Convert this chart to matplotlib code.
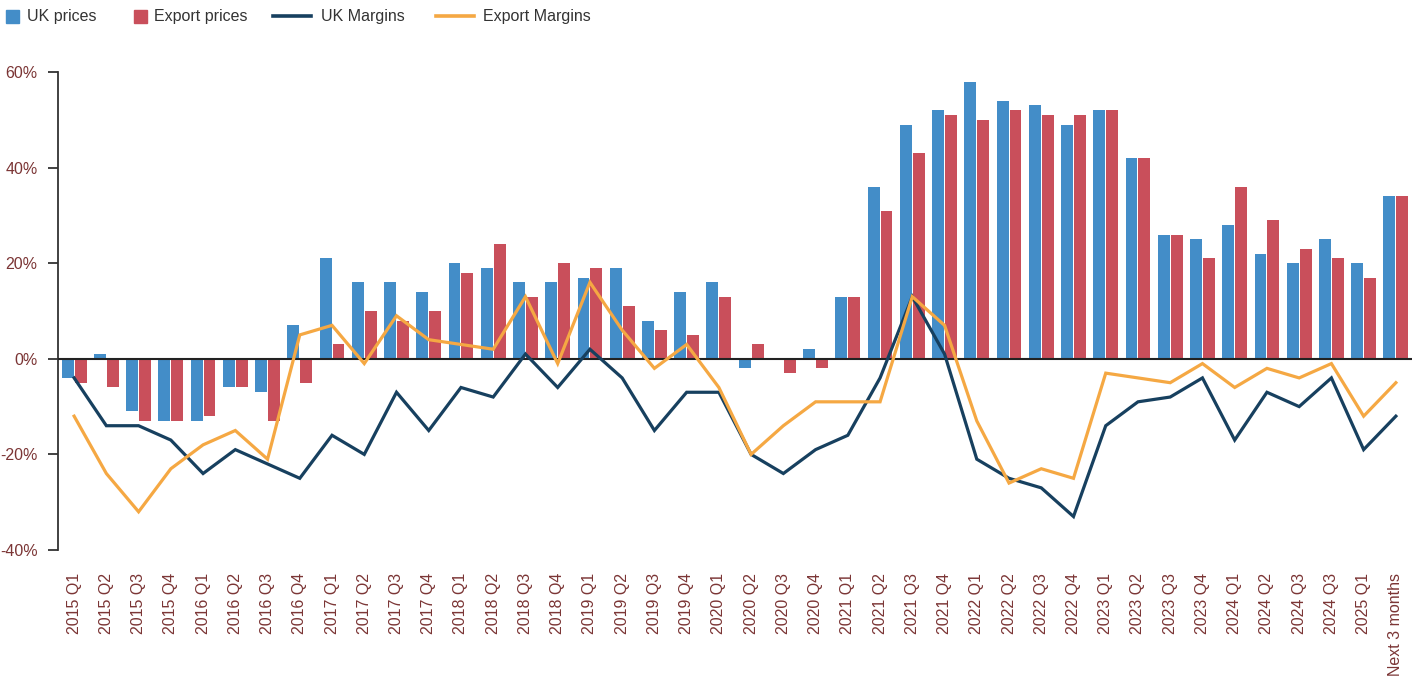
import numpy as np
import matplotlib
matplotlib.use("Agg")
import matplotlib.pyplot as plt
from matplotlib.patches import Rectangle
from matplotlib.lines import Line2D
from matplotlib.ticker import FuncFormatter

plt.rcParams['font.family'] = ['Liberation Sans', 'DejaVu Sans']

categories = [
    "2015 Q1", "2015 Q2", "2015 Q3", "2015 Q4",
    "2016 Q1", "2016 Q2", "2016 Q3", "2016 Q4",
    "2017 Q1", "2017 Q2", "2017 Q3", "2017 Q4",
    "2018 Q1", "2018 Q2", "2018 Q3", "2018 Q4",
    "2019 Q1", "2019 Q2", "2019 Q3", "2019 Q4",
    "2020 Q1", "2020 Q2", "2020 Q3", "2020 Q4",
    "2021 Q1", "2021 Q2", "2021 Q3", "2021 Q4",
    "2022 Q1", "2022 Q2", "2022 Q3", "2022 Q4",
    "2023 Q1", "2023 Q2", "2023 Q3", "2023 Q4",
    "2024 Q1", "2024 Q2", "2024 Q3", "2024 Q3",
    "2025 Q1", "Next 3 months",
]

uk_prices = [-4, 1, -11, -13, -13, -6, -7, 7, 21, 16, 16, 14,
             20, 19, 16, 16, 17, 19, 8, 14, 16, -2, 0, 2,
             13, 36, 49, 52, 58, 54, 53, 49, 52, 42, 26, 25,
             28, 22, 20, 25, 20, 34]
export_prices = [-5, -6, -13, -13, -12, -6, -13, -5, 3, 10, 8, 10,
                 18, 24, 13, 20, 19, 11, 6, 5, 13, 3, -3, -2,
                 13, 31, 43, 51, 50, 52, 51, 51, 52, 42, 26, 21,
                 36, 29, 23, 21, 17, 34]
uk_margins = [-4, -14, -14, -17, -24, -19, -22, -25, -16, -20, -7, -15,
              -6, -8, 1, -6, 2, -4, -15, -7, -7, -20, -24, -19,
              -16, -4, 13, 1, -21, -25, -27, -33, -14, -9, -8, -4,
              -17, -7, -10, -4, -19, -12]
export_margins = [-12, -24, -32, -23, -18, -15, -21, 5, 7, -1, 9, 4,
                  3, 2, 13, -1, 16, 6, -2, 3, -6, -20, -14, -9,
                  -9, -9, 13, 7, -13, -26, -23, -25, -3, -4, -5, -1,
                  -6, -2, -4, -1, -12, -5]

C_UK = '#438DC8'
C_EX = '#C94F5B'
C_UKM = '#17405F'
C_EXM = '#F5A843'
C_TICK = '#7B3535'

W, H = 1419, 678
fig = plt.figure(figsize=(W / 100, H / 100), dpi=100)
ax = fig.add_axes([58 / W, 1 - 550 / H, (1412 - 58) / W, (550 - 72) / H])

x = np.arange(len(categories))
bw = 0.37
ax.bar(x - 0.2, uk_prices, width=bw, color=C_UK, zorder=2)
ax.bar(x + 0.2, export_prices, width=bw, color=C_EX, zorder=2)
ax.axhline(0, color='#222222', lw=1.5, zorder=3)
ax.plot(x, uk_margins, color=C_UKM, lw=2.3, zorder=4, solid_joinstyle='miter')
ax.plot(x, export_margins, color=C_EXM, lw=2.3, zorder=5, solid_joinstyle='miter')

ax.set_xlim(-0.5, len(categories) - 0.5)
ax.set_ylim(-40, 60)
ax.set_yticks([-40, -20, 0, 20, 40, 60])
ax.yaxis.set_major_formatter(FuncFormatter(lambda v, p: f"{int(v)}%"))
ax.set_xticks(x)
ax.set_xticklabels(categories, rotation=90, va='top', ha='center')

for s in ['top', 'right', 'bottom']:
    ax.spines[s].set_visible(False)
ax.spines['left'].set_color('#333333')
ax.spines['left'].set_linewidth(1.3)

ax.tick_params(axis='y', direction='out', length=7.2, width=1.3, color='#333333',
               labelsize=11.5, labelcolor=C_TICK, pad=7.5)
ax.tick_params(axis='x', length=0, labelsize=11.5, labelcolor=C_TICK, pad=16.5)

# legend (figure coords, pixel-based layout)
def fx(px):
    return px / W

def fy(py):
    return 1 - py / H

ly = 16
fig.patches.append(Rectangle((fx(6), fy(ly + 6.5)), 13 / W, 13 / H, color=C_UK,
                             transform=fig.transFigure, figure=fig))
fig.text(fx(27), fy(ly), "UK prices", fontsize=11.5, color='#333333', va='center', ha='left')
fig.patches.append(Rectangle((fx(134), fy(ly + 6.5)), 13 / W, 13 / H, color=C_EX,
                             transform=fig.transFigure, figure=fig))
fig.text(fx(154), fy(ly), "Export prices", fontsize=11.5, color='#333333', va='center', ha='left')
fig.lines.append(Line2D([fx(273), fx(311)], [fy(ly), fy(ly)], color=C_UKM, lw=2.6,
                        transform=fig.transFigure, figure=fig))
fig.text(fx(321), fy(ly), "UK Margins", fontsize=11.5, color='#333333', va='center', ha='left')
fig.lines.append(Line2D([fx(436), fx(474)], [fy(ly), fy(ly)], color=C_EXM, lw=2.6,
                        transform=fig.transFigure, figure=fig))
fig.text(fx(483), fy(ly), "Export Margins", fontsize=11.5, color='#333333', va='center', ha='left')

fig.savefig("out.png", dpi=100)
